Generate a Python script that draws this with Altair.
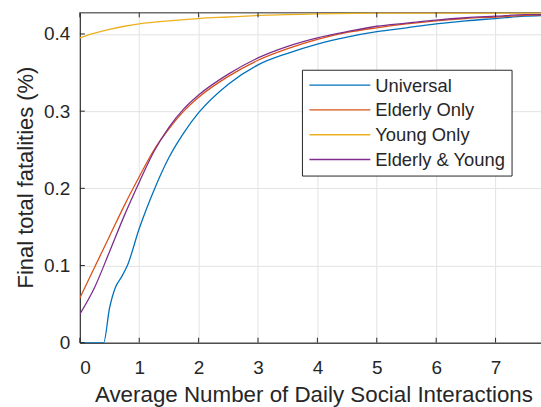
import altair as alt
import pandas as pd

# ---- data ----
series_names = ["Universal", "Elderly Only", "Young Only", "Elderly & Young"]
series_colors = ["#0072BD", "#D95319", "#EDB120", "#7E2F8E"]

universal_x = [0, 0.25, 0.4, 0.5, 0.6, 0.7, 0.8, 1.0, 1.25, 1.5, 1.75, 2.0, 2.5, 3.0,
               3.5, 4.0, 4.5, 5.0, 5.5, 6.0, 6.5, 7.0, 7.5, 7.8]
universal_y = [0, 0, 0, 0.045, 0.072, 0.085, 0.100, 0.148, 0.198, 0.240, 0.272, 0.298,
               0.335, 0.360, 0.375, 0.387, 0.396, 0.403, 0.408, 0.413, 0.417, 0.420,
               0.423, 0.424]

elderly_x = [0, 0.25, 0.5, 0.75, 1.0, 1.25, 1.5, 1.75, 2.0, 2.5, 3.0, 3.5, 4.0, 4.5,
             5.0, 5.5, 6.0, 6.5, 7.0, 7.5, 7.8]
elderly_y = [0.058, 0.098, 0.138, 0.178, 0.215, 0.250, 0.277, 0.300, 0.318, 0.345,
             0.366, 0.381, 0.393, 0.402, 0.408, 0.413, 0.417, 0.420, 0.422, 0.424, 0.425]

young_x = [0, 0.25, 0.5, 0.75, 1.0, 1.5, 2.0, 2.5, 3.0, 4.0, 5.0, 6.0, 7.0, 7.8]
young_y = [0.395, 0.401, 0.406, 0.410, 0.413, 0.417, 0.420, 0.422, 0.424, 0.426,
           0.427, 0.427, 0.427, 0.427]

both_x = [0, 0.25, 0.5, 0.75, 1.0, 1.25, 1.5, 1.75, 2.0, 2.5, 3.0, 3.5, 4.0, 4.5,
          5.0, 5.5, 6.0, 6.5, 7.0, 7.5, 7.8]
both_y = [0.037, 0.072, 0.118, 0.165, 0.208, 0.248, 0.279, 0.303, 0.321, 0.348,
          0.369, 0.384, 0.395, 0.403, 0.410, 0.414, 0.418, 0.421, 0.423, 0.425, 0.425]

x_ticks = [0, 1, 2, 3, 4, 5, 6, 7]
y_ticks = [0, 0.1, 0.2, 0.3, 0.4]

# ---- build table ----
rows = []
for name, xs, ys in zip(series_names,
                        [universal_x, elderly_x, young_x, both_x],
                        [universal_y, elderly_y, young_y, both_y]):
    for xv, yv in zip(xs, ys):
        rows.append({"x": xv, "y": yv, "series": name})
df = pd.DataFrame(rows)

FONT = "Liberation Sans"
AX = "#262626"
W, H = 462, 331
xscale = alt.Scale(domain=[0, 7.765], nice=False, zero=False)
yscale = alt.Scale(domain=[0, 0.428], nice=False)

lines = alt.Chart(df).mark_line(strokeWidth=1.3, interpolate="monotone", clip=True).encode(
    x=alt.X("x:Q", scale=xscale,
            axis=alt.Axis(values=x_ticks, format="d",
                          title="Average Number of Daily Social Interactions",
                          tickSize=0, labelPadding=16, labelFontSize=19, titleFontSize=22.4,
                          titleFontWeight="normal", titleX=234, titleY=59,
                          titleBaseline="alphabetic", titleAlign="center")),
    y=alt.Y("y:Q", scale=yscale,
            axis=alt.Axis(values=y_ticks, format=".1~f", title="Final total fatalities (%)",
                          tickSize=0, labelPadding=10, labelFontSize=19, titleFontSize=22,
                          titleFontWeight="normal", titleX=-47, titleY=165,
                          titleAngle=270, titleBaseline="alphabetic", titleAlign="center")),
    color=alt.Color("series:N", scale=alt.Scale(domain=series_names, range=series_colors),
                    legend=None),
    detail="series:N",
)

xt = pd.DataFrame({"x": x_ticks})
yt = pd.DataFrame({"y": y_ticks})
tick_bottom = alt.Chart(xt).mark_rule(color=AX, strokeWidth=1).encode(
    x=alt.X("x:Q", scale=xscale), y=alt.value(H), y2=alt.value(H - 5))
tick_top = alt.Chart(xt).mark_rule(color=AX, strokeWidth=1).encode(
    x=alt.X("x:Q", scale=xscale), y=alt.value(0), y2=alt.value(5))
tick_left = alt.Chart(yt).mark_rule(color=AX, strokeWidth=1).encode(
    y=alt.Y("y:Q", scale=yscale), x=alt.value(0), x2=alt.value(5))

legend_box = alt.Chart(pd.DataFrame({"k": [0]})).mark_rect(
    fill="white", stroke=AX, strokeWidth=1).encode(
    x=alt.value(223), x2=alt.value(433), y=alt.value(58), y2=alt.value(164))

legend_layers = []
for i, (name, col) in enumerate(zip(series_names, series_colors)):
    ly = 73 + i * 24.8
    d = pd.DataFrame({"series": [name]})
    legend_layers.append(
        alt.Chart(d).mark_rule(color=col, strokeWidth=1.3).encode(
            x=alt.value(230), x2=alt.value(291), y=alt.value(ly)))
    legend_layers.append(
        alt.Chart(d).mark_text(align="left", baseline="alphabetic", font=FONT,
                               fontSize=18.4, color=AX).encode(
            x=alt.value(296), y=alt.value(ly + 6.5), text="series:N"))

chart = alt.layer(lines, tick_bottom, tick_top, tick_left, legend_box, *legend_layers).properties(
    width=W, height=H,
    padding={"left": 80, "top": 12, "right": 0, "bottom": 64},
    autosize=alt.AutoSizeParams(type="none"),
    background="white",
).configure_axis(
    labelFont=FONT, titleFont=FONT, labelColor=AX, titleColor=AX,
    domainColor=AX, domainWidth=1, gridColor="#e3e3e3", gridWidth=1,
).configure_view(stroke=AX, strokeWidth=1)

chart.save("out.html", embed_options={"renderer": "svg", "actions": False})
